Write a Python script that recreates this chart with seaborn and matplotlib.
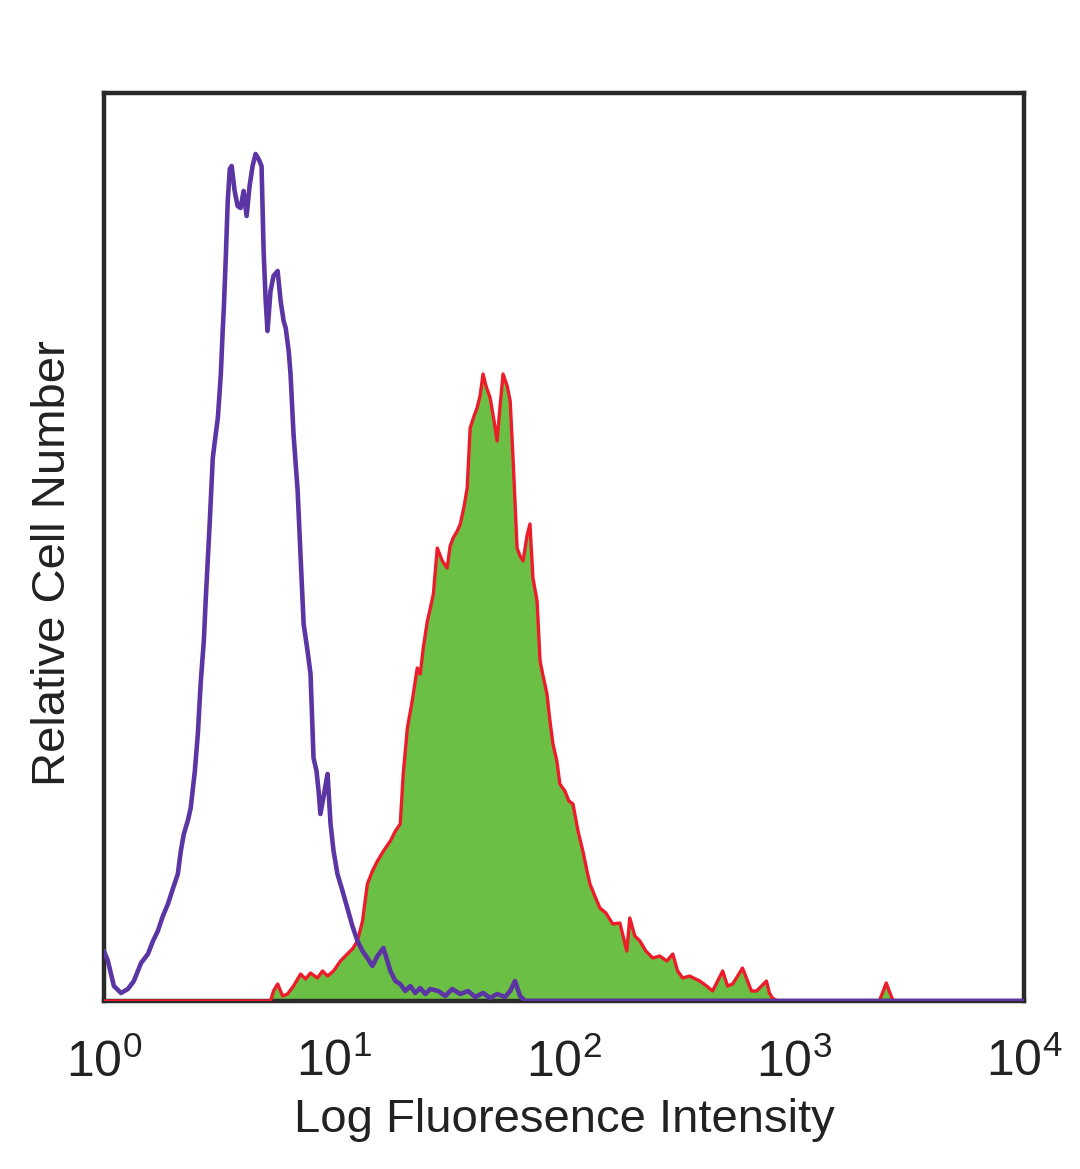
import matplotlib
matplotlib.use("Agg")
import matplotlib.pyplot as plt
import seaborn as sns
import pandas as pd

# --------------------------------------------------------
# Data (log10 fluorescence, relative cell counts)
# --------------------------------------------------------
control_log = [0.000, 0.017, 0.043, 0.074, 0.104, 0.130, 0.161, 0.191, 0.213, 0.234,
               0.256, 0.278, 0.299, 0.321, 0.334, 0.347, 0.364, 0.377, 0.395, 0.408,
               0.416, 0.421, 0.434, 0.442, 0.451, 0.460, 0.473, 0.482, 0.495, 0.508,
               0.516, 0.521, 0.529, 0.538, 0.547, 0.555, 0.568, 0.581, 0.594, 0.607,
               0.620, 0.633, 0.646, 0.659, 0.672, 0.685, 0.694, 0.703, 0.711, 0.724,
               0.737, 0.755, 0.768, 0.781, 0.790, 0.803, 0.811, 0.824, 0.842, 0.855,
               0.868, 0.885, 0.898, 0.911, 0.924, 0.933, 0.941, 0.959, 0.972, 0.985,
               0.998, 1.015, 1.037, 1.058, 1.080, 1.102, 1.124, 1.145, 1.167, 1.189,
               1.215, 1.232, 1.245, 1.267, 1.288, 1.310, 1.332, 1.353, 1.375, 1.397,
               1.419, 1.453, 1.484, 1.514, 1.549, 1.583, 1.614, 1.648, 1.679, 1.709,
               1.744, 1.766, 1.787, 1.809, 1.831, 4.000]
control_count = [50, 40, 15, 8, 12, 20, 38, 47, 60, 70,
                 85, 97, 112, 127, 150, 167, 180, 193, 230, 267,
                 300, 320, 360, 400, 440, 480, 543, 560, 583, 627,
                 670, 693, 740, 800, 832, 835, 810, 795, 793, 810,
                 785, 815, 835, 847, 842, 835, 750, 700, 670, 710,
                 725, 730, 700, 680, 673, 650, 627, 567, 510, 443,
                 377, 350, 327, 243, 230, 210, 187, 210, 227, 177,
                 150, 127, 110, 93, 75, 60, 50, 43, 35, 45,
                 53, 40, 30, 20, 17, 10, 15, 8, 13, 7,
                 12, 10, 5, 12, 7, 10, 4, 8, 3, 7,
                 4, 10, 20, 5, 0, 0]

stained_log = [0.000, 0.724, 0.737, 0.755, 0.777, 0.798, 0.824, 0.855, 0.876, 0.898,
               0.928, 0.950, 0.972, 0.998, 1.028, 1.058, 1.080, 1.102, 1.124, 1.145,
               1.167, 1.189, 1.215, 1.245, 1.267, 1.288, 1.301, 1.319, 1.340, 1.362,
               1.375, 1.388, 1.406, 1.419, 1.432, 1.449, 1.471, 1.492, 1.505, 1.518,
               1.536, 1.549, 1.566, 1.579, 1.592, 1.609, 1.622, 1.635, 1.648, 1.661,
               1.679, 1.696, 1.709, 1.722, 1.735, 1.753, 1.766, 1.779, 1.796, 1.809,
               1.822, 1.839, 1.852, 1.865, 1.883, 1.896, 1.909, 1.926, 1.939, 1.952,
               1.969, 1.982, 2.004, 2.021, 2.039, 2.061, 2.082, 2.100, 2.113, 2.134,
               2.156, 2.182, 2.212, 2.243, 2.273, 2.286, 2.308, 2.330, 2.356, 2.386,
               2.416, 2.447, 2.473, 2.494, 2.516, 2.546, 2.590, 2.620, 2.646, 2.668,
               2.690, 2.711, 2.733, 2.755, 2.776, 2.798, 2.815, 2.837, 2.859, 2.880,
               2.893, 2.906, 2.928, 3.371, 3.388, 3.401, 3.414, 3.431, 4.000]
stained_count = [0, 0, 10, 17, 5, 7, 15, 27, 22, 28,
                 23, 30, 25, 30, 40, 47, 52, 60, 80, 117,
                 130, 140, 150, 160, 170, 177, 227, 273, 300, 333,
                 327, 353, 380, 393, 407, 453, 440, 433, 455, 463,
                 470, 477, 495, 513, 573, 585, 593, 605, 627, 615,
                 603, 580, 560, 595, 627, 615, 600, 540, 453, 445,
                 440, 465, 477, 423, 400, 340, 325, 307, 280, 257,
                 240, 217, 210, 200, 197, 170, 150, 130, 117, 105,
                 93, 88, 77, 78, 50, 83, 65, 60, 50, 43,
                 45, 40, 47, 30, 23, 25, 20, 15, 10, 20,
                 30, 15, 17, 25, 33, 20, 10, 10, 15, 20,
                 8, 3, 0, 0, 10, 18, 10, 0, 0]

tick_pos = [0, 1, 2, 3, 4]
tick_labels = [r"$10^{0}$", r"$10^{1}$", r"$10^{2}$", r"$10^{3}$", r"$10^{4}$"]

x_title = "Log Fluoresence Intensity"
y_title = "Relative Cell Number"

# --------------------------------------------------------
# Style
# --------------------------------------------------------
sns.set_theme(style="white")
plt.rcParams["font.family"] = ["Liberation Sans", "DejaVu Sans"]
plt.rcParams["mathtext.fontset"] = "custom"
plt.rcParams["mathtext.rm"] = "Liberation Sans"
plt.rcParams["mathtext.it"] = "Liberation Sans"
plt.rcParams["mathtext.bf"] = "Liberation Sans"

purple = "#5b35a3"
green = "#6cbf45"
red = "#ec1c2b"
ink = "#222222"

ctrl = pd.DataFrame({"log_int": control_log, "count": control_count})
stain = pd.DataFrame({"log_int": stained_log, "count": stained_count})

fig = plt.figure(figsize=(10.8, 11.69), dpi=100)
ax = fig.add_axes([104 / 1080, 1 - 1001 / 1169, 920 / 1080, 908 / 1169])

# stained sample: filled green with red outline
ax.fill_between(stain["log_int"], stain["count"], 0, color=green, linewidth=0, zorder=2)
sns.lineplot(data=stain, x="log_int", y="count", ax=ax, color=red, linewidth=2.4,
             sort=False, zorder=3)

# isotype control: purple outline
sns.lineplot(data=ctrl, x="log_int", y="count", ax=ax, color=purple, linewidth=3.3,
             sort=False, zorder=4)

ax.set_xlim(0, 4)
ax.set_ylim(0, 908)
ax.set_xticks(tick_pos)
ax.set_xticklabels(tick_labels, fontsize=36)
ax.set_yticks([])
ax.tick_params(axis="x", length=0, pad=27, colors=ink)

ax.set_xlabel(x_title, fontsize=34, color=ink, labelpad=8)
ax.set_ylabel(y_title, fontsize=34, color=ink, labelpad=26)
ax.yaxis.set_label_coords(-0.032, 0.482)

for side in ["top", "bottom", "left", "right"]:
    ax.spines[side].set_visible(True)
    ax.spines[side].set_color("#2a2a2a")
    ax.spines[side].set_linewidth(3.2)

fig.savefig("out.png", dpi=100, facecolor="white")
plt.close(fig)
